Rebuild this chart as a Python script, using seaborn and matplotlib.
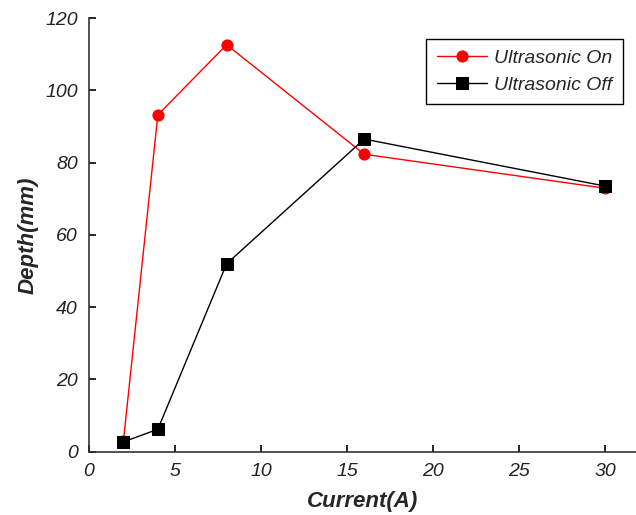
import matplotlib
matplotlib.use("Agg")
import matplotlib.pyplot as plt
import pandas as pd
import seaborn as sns

CURRENT = [2, 4, 8, 16, 30]
DEPTH_ON = [3.0, 93.2, 112.6, 82.3, 72.9]
DEPTH_OFF = [2.7, 6.2, 52.0, 86.5, 73.5]
SERIES_NAMES = ["Ultrasonic On", "Ultrasonic Off"]


def configure_style() -> None:
    sns.set_style("ticks")
    plt.rcParams["font.family"] = ["Liberation Sans", "DejaVu Sans"]
    plt.rcParams["xtick.direction"] = "in"
    plt.rcParams["ytick.direction"] = "in"


def build_frame() -> pd.DataFrame:
    on = pd.DataFrame({"current": CURRENT, "depth": DEPTH_ON, "series": SERIES_NAMES[0]})
    off = pd.DataFrame({"current": CURRENT, "depth": DEPTH_OFF, "series": SERIES_NAMES[1]})
    return pd.concat([on, off], ignore_index=True)


def draw(df: pd.DataFrame) -> None:
    fig = plt.figure(figsize=(6.36, 5.15), dpi=100)
    ax = fig.add_axes([0.14, 0.123, 0.86, 0.842])

    styles = {
        SERIES_NAMES[0]: dict(color="#ff0000", marker="o", markersize=8),
        SERIES_NAMES[1]: dict(color="black", marker="s", markersize=8),
    }
    for name in SERIES_NAMES:
        sub = df[df["series"] == name]
        st = styles[name]
        sns.lineplot(
            data=sub, x="current", y="depth", ax=ax, label=name,
            color=st["color"], marker=st["marker"], markersize=st["markersize"],
            markeredgecolor=st["color"], linewidth=1.0, estimator=None,
        )

    ax.set_xlim(0, 31.8)
    ax.set_ylim(0, 120)
    ax.set_xticks([0, 5, 10, 15, 20, 25, 30])
    ax.set_yticks([0, 20, 40, 60, 80, 100, 120])
    ax.tick_params(labelsize=14, length=5, width=1.2, pad=8, colors="black")
    for lbl in ax.get_xticklabels() + ax.get_yticklabels():
        lbl.set_fontstyle("italic")
        lbl.set_color("#222222")

    for side in ["top", "right"]:
        ax.spines[side].set_visible(False)
    for side in ["left", "bottom"]:
        ax.spines[side].set_linewidth(1.2)
        ax.spines[side].set_color("#333333")

    ax.set_xlabel("Current(A)", fontsize=16, fontweight="bold", fontstyle="italic", labelpad=8)
    ax.set_ylabel("Depth(mm)", fontsize=16, fontweight="bold", fontstyle="italic", labelpad=5)

    leg = ax.legend(
        loc="upper right", bbox_to_anchor=(0.976, 0.952), fancybox=False,
        framealpha=1, edgecolor="black", fontsize=14, handlelength=2.6,
        handletextpad=0.35, borderpad=0.55, labelspacing=0.45, borderaxespad=0,
    )
    leg.get_frame().set_linewidth(1.0)
    for t in leg.get_texts():
        t.set_fontstyle("italic")

    fig.savefig("out.png", dpi=100)
    plt.close(fig)


def main() -> None:
    configure_style()
    draw(build_frame())


if __name__ == "__main__":
    main()
